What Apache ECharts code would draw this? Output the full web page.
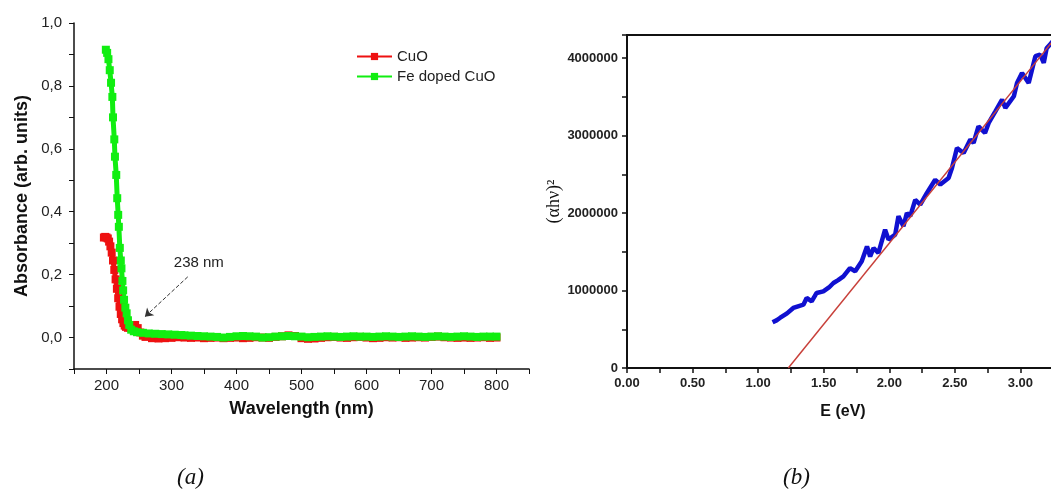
<!DOCTYPE html>
<html>
<head>
<meta charset="utf-8">
<script src="https://cdn.jsdelivr.net/npm/echarts@6/dist/echarts.min.js"></script>
<style>
  html, body { margin: 0; padding: 0; background: #fff; }
  #chart { width: 1051px; height: 491px; }
</style>
</head>
<body>
<div id="chart"></div>
<script>
// (a) absorbance spectra
var cuoWavelength = [196, 198, 200, 202, 204, 206, 208, 210, 212, 214, 216, 218, 220, 222, 224, 226, 228, 230, 233, 236, 240, 244, 248, 252, 256, 260,
  270, 280, 290, 300, 310, 320, 330, 340, 350, 360, 370, 380, 390, 400, 410, 420, 430, 440, 450, 460, 470, 480, 490, 500,
  510, 520, 530, 540, 550, 560, 570, 580, 590, 600, 610, 620, 630, 640, 650, 660, 670, 680, 690, 700, 710, 720, 730, 740, 750,
  760, 770, 780, 790, 800]
var cuoAbs = [0.318, 0.320, 0.318, 0.315, 0.305, 0.290, 0.270, 0.245, 0.215, 0.185, 0.155, 0.125, 0.098, 0.075, 0.058, 0.046, 0.038, 0.034, 0.031, 0.032, 0.036, 0.040, 0.030, 0.016, 0.006, 0.002,
  -0.002, -0.003, -0.002, -0.001, 0.001, 0.000, -0.001, 0.000, -0.002, -0.001, 0.000, -0.002, -0.001, 0.000, -0.002, -0.001, 0.001, 0.000, -0.001, 0.002, 0.004, 0.007, 0.005, -0.002,
  -0.004, -0.003, -0.001, 0.001, 0.002, 0.000, -0.001, 0.001, 0.002, 0.000, -0.002, -0.001, 0.001, 0.000, 0.001, -0.001, 0.000, 0.001, 0.000, 0.002, 0.003, 0.001, 0.000, -0.001, 0.000,
  -0.001, 0.000, 0.001, -0.001, 0.000]
var feWavelength = [199, 201, 203, 205, 207, 209, 210, 212, 213, 215, 216.5, 218, 219, 220.5, 222, 223, 224.5, 225.6, 227, 229, 231, 233, 235, 238, 242, 247, 256,
  265, 275, 285, 295, 305, 315, 320, 330, 340, 350, 360, 370, 380, 390, 400, 410, 420, 430, 440, 450, 460, 470, 480, 490, 500,
  510, 520, 530, 540, 550, 560, 570, 580, 590, 600, 610, 620, 630, 640, 650, 660, 670, 680, 690, 700, 710, 720, 730, 740, 750,
  760, 770, 780, 790, 800]
var feAbs = [0.915, 0.905, 0.885, 0.850, 0.810, 0.765, 0.700, 0.630, 0.575, 0.517, 0.443, 0.390, 0.352, 0.285, 0.245, 0.220, 0.180, 0.150, 0.120, 0.095, 0.077, 0.055, 0.040, 0.025, 0.020, 0.017, 0.015,
  0.013, 0.012, 0.011, 0.010, 0.009, 0.008, 0.007, 0.006, 0.005, 0.004, 0.003, 0.002, 0.000, 0.002, 0.004, 0.005, 0.004, 0.003, 0.000, 0.001, 0.003, 0.004, 0.005, 0.004, 0.003,
  0.001, 0.002, 0.003, 0.004, 0.003, 0.002, 0.003, 0.004, 0.003, 0.003, 0.002, 0.003, 0.004, 0.003, 0.002, 0.003, 0.004, 0.003, 0.002, 0.003, 0.004, 0.003, 0.002, 0.003, 0.004,
  0.003, 0.002, 0.003, 0.003, 0.003]
var arrowFrom = [325, 0.193]
var arrowTo = [259, 0.066]
var peakLabelAt = [342, 0.237]

// (b) Tauc plot
var energyE = [1.11, 1.14, 1.166, 1.22, 1.268, 1.31, 1.345, 1.37, 1.408, 1.446, 1.497, 1.54, 1.574, 1.61, 1.65, 1.70, 1.74, 1.79, 1.83, 1.854, 1.88, 1.917, 1.968, 1.994,
  2.045, 2.07, 2.108, 2.134, 2.16, 2.198, 2.236, 2.287, 2.35, 2.389, 2.452, 2.478, 2.516, 2.567, 2.618, 2.643, 2.68, 2.73, 2.758, 2.809, 2.86, 2.885,
  2.95, 2.974, 3.012, 3.063, 3.114, 3.15, 3.178, 3.20, 3.236, 3.27, 3.30]
var alphaSq = [590000, 615000, 646000, 705000, 775000, 800000, 818000, 904000, 861000, 969000, 990000, 1040000, 1098000, 1135000, 1184000, 1290000, 1250000, 1378000, 1570000, 1440000, 1550000, 1485000, 1787000, 1658000,
  1722000, 1960000, 1830000, 2000000, 1960000, 2170000, 2110000, 2260000, 2430000, 2370000, 2454000, 2583000, 2840000, 2777000, 2950000, 2906000, 3120000, 3035000, 3165000, 3315000, 3466000, 3358000,
  3509000, 3680000, 3810000, 3680000, 4026000, 4047000, 3940000, 4130000, 4198000, 4260000, 4300000]
var fitE = [1.23, 3.5]
var fitV = [0, 4750000]

function zip (xs, ys) {
  return xs.map(function (x, i) { return [x, ys[i]] })
}

var chart = echarts.init(document.getElementById('chart'))
chart.setOption({
  animation: false,
  backgroundColor: '#fff',
  textStyle: { fontFamily: 'Liberation Sans, Arial, sans-serif' },
  grid: [
    { left: 74, right: 522, top: 23, bottom: 122, outerBoundsMode: 'none' },
    { left: 627, right: -35, top: 35, bottom: 123, outerBoundsMode: 'none', show: true, borderColor: '#111', borderWidth: 2 }
  ],
  legend: {
    data: ['CuO', 'Fe doped CuO'],
    orient: 'vertical',
    left: 351,
    top: 44,
    itemWidth: 35,
    itemHeight: 9,
    itemGap: 5,
    textStyle: { fontSize: 15, color: '#222' }
  },
  xAxis: [
    {
      gridIndex: 0, type: 'value', min: 150, max: 850, interval: 50,
      name: 'Wavelength (nm)', nameLocation: 'middle', nameGap: 31,
      nameTextStyle: { fontSize: 18, fontWeight: 'bold', color: '#111' },
      axisLine: { onZero: false, lineStyle: { color: '#111', width: 1.5 } },
      axisTick: { length: 5, lineStyle: { color: '#111' } },
      axisLabel: { fontSize: 15, color: '#222', margin: 9,
        formatter: function (v) { return v % 100 === 0 ? String(v) : '' } },
      splitLine: { show: false }
    },
    {
      gridIndex: 1, type: 'value', min: 0, max: 3.5, interval: 0.25,
      name: 'E (eV)', nameLocation: 'middle', nameGap: 36,
      nameTextStyle: { fontSize: 16, fontWeight: 'bold', color: '#111', padding: [0, 27, 0, 0] },
      axisLine: { onZero: false, lineStyle: { color: '#111', width: 2 } },
      axisTick: { length: 5, lineStyle: { color: '#111', width: 1.5 } },
      axisLabel: { fontSize: 13, fontWeight: 'bold', color: '#222', margin: 9,
        formatter: function (v) { return Math.round(v * 100) % 50 === 0 ? v.toFixed(2) : '' } },
      splitLine: { show: false }
    }
  ],
  yAxis: [
    {
      gridIndex: 0, type: 'value', min: -0.1, max: 1.0, interval: 0.1,
      name: 'Absorbance (arb. units)', nameLocation: 'middle', nameGap: 43,
      nameTextStyle: { fontSize: 18, fontWeight: 'bold', color: '#111' },
      axisLine: { show: true, onZero: false, lineStyle: { color: '#111', width: 1.5 } },
      axisTick: { show: true, length: 5, lineStyle: { color: '#111' } },
      axisLabel: { fontSize: 15, color: '#222', margin: 12,
        formatter: function (v) {
          var k = Math.round(v * 10)
          return (k >= 0 && k % 2 === 0) ? (k / 10).toFixed(1).replace('.', ',') : ''
        } },
      splitLine: { show: false }
    },
    {
      gridIndex: 1, type: 'value', min: 0, max: 4300000, interval: 500000,
      name: '(αhν)²', nameLocation: 'middle', nameGap: 64,
      nameTextStyle: { fontSize: 18, color: '#111', fontFamily: 'Liberation Serif, serif' },
      axisLine: { show: true, onZero: false, lineStyle: { color: '#111', width: 2 } },
      axisTick: { show: true, length: 5, lineStyle: { color: '#111', width: 1.5 } },
      axisLabel: { fontSize: 13, fontWeight: 'bold', color: '#222', margin: 9,
        formatter: function (v) { return v % 1000000 === 0 ? String(v) : '' } },
      splitLine: { show: false }
    }
  ],
  series: [
    {
      name: 'CuO', type: 'line', xAxisIndex: 0, yAxisIndex: 0,
      data: zip(cuoWavelength, cuoAbs),
      symbol: 'rect', symbolSize: 8, showSymbol: true,
      color: '#ee1111',
      lineStyle: { width: 5, color: '#ee1111' }
    },
    {
      name: 'Fe doped CuO', type: 'line', xAxisIndex: 0, yAxisIndex: 0,
      data: zip(feWavelength, feAbs),
      symbol: 'rect', symbolSize: 8, showSymbol: true,
      color: '#11ee11',
      lineStyle: { width: 5, color: '#11ee11' },
      markLine: {
        silent: true,
        symbol: ['none', 'arrow'],
        symbolSize: 8,
        label: { show: false },
        lineStyle: { type: 'dashed', color: '#333', width: 1 },
        data: [[{ coord: arrowFrom }, { coord: arrowTo }]]
      },
      markPoint: {
        silent: true,
        symbol: 'circle',
        symbolSize: 1,
        itemStyle: { color: 'rgba(0,0,0,0)' },
        label: { show: true, position: 'inside', formatter: '238 nm', fontSize: 15, color: '#222' },
        data: [{ coord: peakLabelAt }]
      }
    },
    {
      name: 'data', type: 'line', xAxisIndex: 1, yAxisIndex: 1,
      data: zip(energyE, alphaSq),
      showSymbol: false,
      lineStyle: { width: 4.5, color: '#1010d0' }
    },
    {
      name: 'fit', type: 'line', xAxisIndex: 1, yAxisIndex: 1,
      data: zip(fitE, fitV),
      showSymbol: false,
      lineStyle: { width: 1.5, color: '#c8403a' }
    }
  ],
  graphic: [
    { type: 'text', left: 177, top: 466,
      style: { text: '(a)', font: 'italic 23px "Liberation Serif", serif', fill: '#111' } },
    { type: 'text', left: 783, top: 466,
      style: { text: '(b)', font: 'italic 23px "Liberation Serif", serif', fill: '#111' } }
  ]
})
</script>
</body>
</html>
